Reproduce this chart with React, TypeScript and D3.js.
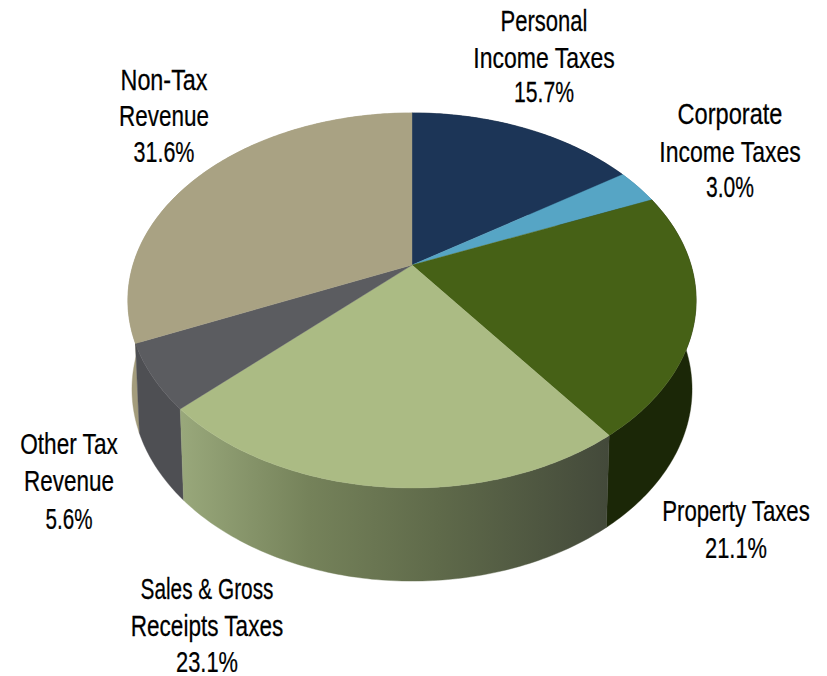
import React from "react";
import * as d3 from "d3";

const categories = ["Personal Income Taxes", "Corporate Income Taxes", "Property Taxes", "Sales & Gross Receipts Taxes", "Other Tax Revenue", "Non-Tax Revenue"];
const values = [15.7, 3.0, 21.1, 23.1, 5.6, 31.6];
const topColors = ["#1c3557", "#56a5c5", "#466116", "#abbb84", "#5b5c60", "#a9a283"];
const wallColors = ["#10203a", "#3a7f9c", "#1b2707", "url(#salesWall)", "#4e4f53", "#a39c7c"];
const labelLines = [
  ["Personal", "Income Taxes", "15.7%"],
  ["Corporate", "Income Taxes", "3.0%"],
  ["Property Taxes", "21.1%"],
  ["Sales & Gross", "Receipts Taxes", "23.1%"],
  ["Other Tax", "Revenue", "5.6%"],
  ["Non-Tax", "Revenue", "31.6%"],
];
const labelX = [544, 730, 736, 207, 69, 164];
const labelBaselines = [
  [31, 68, 102],
  [124, 162, 197],
  [521, 558],
  [599, 636, 672],
  [454, 491, 529],
  [90, 126, 162],
];
const labelWidths = [
  [87, 142, 60],
  [105, 142, 48],
  [148, 62],
  [133, 153, 62],
  [98, 90, 47],
  [87, 90, 61],
];

const labelFont = "29px 'Liberation Sans'";
const cx = 412;
const tilt = 0.189;
const topRim = { a: 279, b: 180.8, y0: 265 };
const bottomRim = { a: 275, b: 185, y0: 353 };

type Rim = typeof topRim;
const project = (rim: Rim, t: number): [number, number] => {
  const u = Math.sin(t);
  const v = -Math.cos(t);
  const w = 1 - tilt * v;
  return [cx + (rim.a * u) / w, rim.y0 + (rim.b * v) / w];
};
const arcPoints = (rim: Rim, t0: number, t1: number): [number, number][] => {
  const n = Math.max(2, Math.ceil((t1 - t0) / 0.015));
  return d3.range(n + 1).map((i) => project(rim, t0 + ((t1 - t0) * i) / n));
};

export default function App() {
  const arcs = d3.pie<number>().sort(null).startAngle(0).endAngle(2 * Math.PI)(values);
  const line = d3.line().curve(d3.curveLinear);
  const wallOrder = [5, 4, 0, 1, 2, 3];
  const ctx = document.createElement("canvas").getContext("2d")!;
  ctx.font = labelFont;
  return (
    <svg width={827} height={676} style={{ position: "absolute", left: 0, top: 0, background: "#fff" }}>
      <defs>
        <linearGradient id="salesWall" gradientUnits="userSpaceOnUse" x1={180} y1={0} x2={610} y2={0}>
          <stop offset="0" stopColor="#99a87b" />
          <stop offset="0.3" stopColor="#75825a" />
          <stop offset="0.6" stopColor="#5f6a4a" />
          <stop offset="1" stopColor="#43493a" />
        </linearGradient>
      </defs>
      <g>
        {wallOrder.map((i) => {
          const a = arcs[i];
          const pts = [...arcPoints(topRim, a.startAngle, a.endAngle), ...arcPoints(bottomRim, a.startAngle, a.endAngle).reverse()];
          return <path key={categories[i]} d={line(pts) + "Z"} fill={wallColors[i]} stroke={wallColors[i]} strokeWidth={0.4} />;
        })}
      </g>
      <g>
        {arcs.map((a, i) => {
          const pts: [number, number][] = [[cx, topRim.y0], ...arcPoints(topRim, a.startAngle, a.endAngle)];
          return <path key={categories[i]} d={line(pts) + "Z"} fill={topColors[i]} stroke={topColors[i]} strokeWidth={0.4} />;
        })}
      </g>
      <g style={{ font: labelFont }} fill="#000" stroke="#000" strokeWidth={0.25} textAnchor="middle">
        {labelLines.map((lines, i) =>
          lines.map((t, j) => {
            const sx = labelWidths[i][j] / ctx.measureText(t).width;
            return (
              <text key={t + i} transform={`translate(${labelX[i]},${labelBaselines[i][j]}) scale(${sx},1)`}>{t}</text>
            );
          })
        )}
      </g>
    </svg>
  );
}
